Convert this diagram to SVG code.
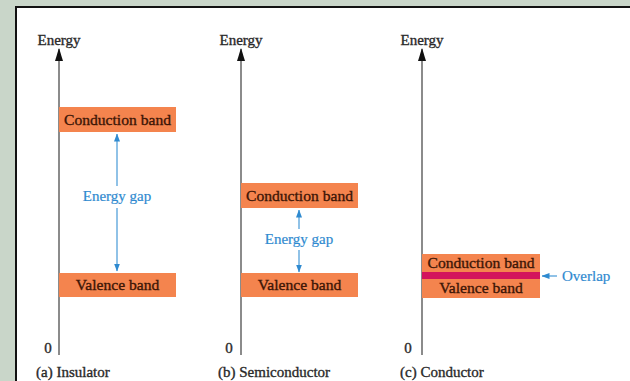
<svg xmlns="http://www.w3.org/2000/svg" width="630" height="381" viewBox="0 0 630 381">
<defs>
<style>
.t{font-family:"Liberation Serif","Times New Roman",serif;font-size:15px;stroke-width:0.35px}
.lab{fill:#2a2a2a;stroke:#2a2a2a}
.band{fill:#f4844e}
.bt{fill:#3d1606;stroke:#3d1606;text-anchor:middle;font-size:15.6px}
.blue{fill:#2f8ad0;stroke:#2f8ad0;stroke-width:0.2px}
.ax{stroke:#6e6e6e;stroke-width:1.6;fill:none}
.gap{stroke:#3590d4;stroke-width:1.1;fill:none}
</style>
<marker id="axh" markerWidth="13" markerHeight="8" refX="12" refY="4" orient="auto" markerUnits="userSpaceOnUse" viewBox="0 0 13 8">
<path d="M0 0 L13 4 L0 8 Z" fill="#111"/>
</marker>
<marker id="bh" markerWidth="8" markerHeight="6" refX="7.5" refY="3" viewBox="0 0 8 6" markerUnits="userSpaceOnUse" orient="auto">
<path d="M0 0 L8 3 L0 6 Z" fill="#2f8ad0"/>
</marker>
</defs>
<rect width="630" height="381" fill="#c9d6c9"/>
<rect x="16" y="7" width="614" height="374" fill="#ffffff"/>
<path d="M16 381 V7 H630" stroke="#111" stroke-width="2" fill="none"/>

<g id="connectors">
<line class="ax" x1="59" y1="355" x2="59" y2="49" marker-end="url(#axh)"/>
<line class="ax" x1="241" y1="355" x2="241" y2="49" marker-end="url(#axh)"/>
<line class="ax" x1="422" y1="355" x2="422" y2="49" marker-end="url(#axh)"/>
<line class="gap" x1="117" y1="186" x2="117" y2="134" marker-end="url(#bh)"/>
<line class="gap" x1="117" y1="208" x2="117" y2="271" marker-end="url(#bh)"/>
<line class="gap" x1="299" y1="229" x2="299" y2="210" marker-end="url(#bh)"/>
<line class="gap" x1="299" y1="250" x2="299" y2="272" marker-end="url(#bh)"/>
<line class="gap" x1="557" y1="276" x2="542" y2="276" marker-end="url(#bh)"/>
</g>

<g id="insulator">
<text class="t lab" x="59" y="45" text-anchor="middle">Energy</text>
<g id="a-cb"><rect class="band" x="59" y="107" width="117" height="25"/><text class="t bt" x="117.5" y="125">Conduction band</text></g>
<text class="t blue" x="117" y="201" text-anchor="middle">Energy gap</text>
<g id="a-vb"><rect class="band" x="59" y="273" width="117" height="24"/><text class="t bt" x="117.5" y="290">Valence band</text></g>
<text class="t lab" x="48" y="353" text-anchor="middle">0</text>
<text class="t lab" x="36" y="377">(a) Insulator</text>
</g>

<g id="semiconductor">
<text class="t lab" x="241" y="45" text-anchor="middle">Energy</text>
<g id="b-cb"><rect class="band" x="241" y="183" width="117" height="25"/><text class="t bt" x="299.5" y="201">Conduction band</text></g>
<text class="t blue" x="299" y="244" text-anchor="middle">Energy gap</text>
<g id="b-vb"><rect class="band" x="241" y="273" width="117" height="24"/><text class="t bt" x="299.5" y="290">Valence band</text></g>
<text class="t lab" x="229" y="353" text-anchor="middle">0</text>
<text class="t lab" x="218" y="377">(b) Semiconductor</text>
</g>

<g id="conductor">
<text class="t lab" x="422" y="45" text-anchor="middle">Energy</text>
<g id="c-bands">
<rect class="band" x="422" y="254" width="118" height="44"/>
<rect x="422" y="272" width="118" height="7" fill="#d3145c"/>
<text class="t bt" x="481" y="268">Conduction band</text>
<text class="t bt" x="481" y="293">Valence band</text>
</g>
<text class="t blue" x="562" y="281">Overlap</text>
<text class="t lab" x="408" y="353" text-anchor="middle">0</text>
<text class="t lab" x="400" y="377">(c) Conductor</text>
</g>
</svg>
